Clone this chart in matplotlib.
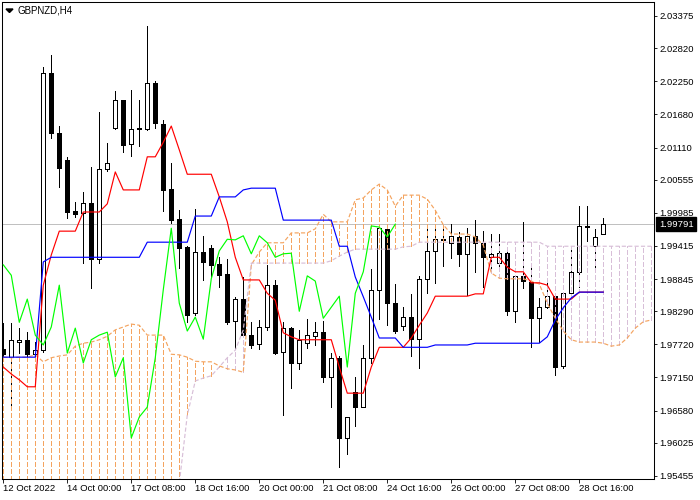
"""
GBPNZD H4 Ichimoku chart (MT4 style), saved to out.png.
"""
import matplotlib
matplotlib.use('Agg')
import matplotlib.pyplot as plt
from matplotlib.patches import Polygon
import numpy as np

plt.rcParams['font.family'] = ['Liberation Sans', 'DejaVu Sans']
plt.rcParams['lines.scale_dashes'] = False

symbol = "GBPNZD,H4"
current_price = 1.99791

# H4 candles, oldest first
opens = [1.9764, 1.9750, 1.9776, 1.9780, 1.9755, 1.9762, 2.0239, 2.0136, 2.0090, 2.0002,
         1.9998, 2.0015, 1.9919, 2.0074, 2.0145, 2.0193, 2.0117, 2.0145, 2.0143, 2.0222,
         2.0151, 2.0040, 1.9988, 1.9940, 1.9826, 1.9931, 1.9938, 1.9910, 1.9893, 1.9812,
         1.9850, 1.9788, 1.9773, 1.9802, 1.9874, 1.9759, 1.9800, 1.9740, 1.9774, 1.9786,
         1.9793, 1.9716, 1.9749, 1.9611, 1.9690, 1.9664, 1.9749, 1.9866, 1.9971, 1.9843,
         1.9804, 1.9819, 1.9781, 1.9885, 1.9933, 1.9953, 1.9947, 1.9957, 1.9928, 1.9959,
         1.9947, 1.9922, 1.9912, 1.9929, 1.9829, 1.9890, 1.9879, 1.9817, 1.9836, 1.9855,
         1.9735, 1.9860, 1.9897, 1.9976, 1.9941, 1.9962]
highs = [1.9809, 1.9809, 1.9800, 1.9793, 1.9776, 2.0250, 2.0270, 2.0148, 2.0095, 2.0017,
         2.0034, 2.0077, 2.0172, 2.0119, 2.0208, 2.0193, 2.0210, 2.0193, 2.0320, 2.0226,
         2.0158, 2.0084, 2.0003, 1.9941, 2.0005, 1.9959, 1.9943, 1.9922, 1.9919, 1.9854,
         1.9888, 1.9810, 1.9814, 1.9909, 1.9883, 1.9810, 1.9802, 1.9797, 1.9816, 1.9810,
         1.9812, 1.9757, 1.9752, 1.9647, 1.9716, 1.9771, 1.9902, 1.9974, 1.9974, 1.9876,
         1.9836, 1.9859, 1.9890, 1.9972, 1.9972, 1.9971, 1.9979, 1.9966, 1.9972, 1.9986,
         1.9967, 1.9962, 1.9962, 1.9938, 1.9891, 1.9983, 1.9912, 1.9852, 1.9878, 1.9860,
         1.9862, 1.9940, 2.0010, 2.0010, 1.9971, 1.9990]
lows = [1.9752, 1.9664, 1.9757, 1.9752, 1.9752, 1.9759, 2.0127, 2.0043, 1.9990, 1.9991,
        1.9912, 1.9869, 1.9912, 2.0071, 2.0143, 2.0103, 2.0096, 2.0114, 2.0141, 2.0145,
        2.0002, 1.9981, 1.9904, 1.9810, 1.9823, 1.9883, 1.9888, 1.9871, 1.9807, 1.9764,
        1.9785, 1.9766, 1.9764, 1.9797, 1.9755, 1.9650, 1.9697, 1.9730, 1.9766, 1.9771,
        1.9707, 1.9664, 1.9561, 1.9583, 1.9631, 1.9664, 1.9740, 1.9816, 1.9805, 1.9792,
        1.9797, 1.9752, 1.9731, 1.9860, 1.9878, 1.9907, 1.9921, 1.9907, 1.9857, 1.9897,
        1.9871, 1.9902, 1.9902, 1.9823, 1.9810, 1.9869, 1.9768, 1.9776, 1.9835, 1.9719,
        1.9731, 1.9860, 1.9871, 1.9950, 1.9902, 1.9962]
closes = [1.9755, 1.9780, 1.9780, 1.9755, 1.9762, 2.0239, 2.0136, 2.0076, 2.0000, 1.9996,
          2.0015, 1.9919, 2.0074, 2.0084, 2.0193, 2.0115, 2.0143, 2.0143, 2.0222, 2.0153,
          2.0038, 1.9986, 1.9938, 1.9823, 1.9931, 1.9914, 1.9909, 1.9891, 1.9810, 1.9850,
          1.9788, 1.9771, 1.9802, 1.9874, 1.9757, 1.9800, 1.9740, 1.9780, 1.9788, 1.9793,
          1.9716, 1.9749, 1.9611, 1.9647, 1.9664, 1.9749, 1.9866, 1.9972, 1.9843, 1.9795,
          1.9819, 1.9781, 1.9885, 1.9933, 1.9953, 1.9952, 1.9959, 1.9928, 1.9959, 1.9947,
          1.9922, 1.9928, 1.9929, 1.9829, 1.9890, 1.9881, 1.9817, 1.9836, 1.9855, 1.9733,
          1.9860, 1.9897, 1.9976, 1.9974, 1.9957, 1.9979]

# Ichimoku lines
tenkan = [1.9733, 1.9721, 1.9711, 1.9699, 1.9699, 1.9874, 1.9926, 1.9967, 1.9967, 1.9967,
          2.0000, 2.0000, 2.0000, 2.0014, 2.0069, 2.0038, 2.0038, 2.0038, 2.0095, 2.0095,
          2.0120, 2.0148, 2.0107, 2.0065, 2.0065, 2.0065, 2.0065, 2.0026, 1.9983, 1.9922,
          1.9883, 1.9883, 1.9883, 1.9860, 1.9848, 1.9792, 1.9785, 1.9780, 1.9780, 1.9780,
          1.9780, 1.9780, 1.9733, 1.9688, 1.9688, 1.9688, 1.9733, 1.9767, 1.9767, 1.9767,
          1.9767, 1.9783, 1.9805, 1.9826, 1.9855, 1.9855, 1.9855, 1.9855, 1.9855, 1.9859,
          1.9859, 1.9922, 1.9922, 1.9905, 1.9897, 1.9897, 1.9878, 1.9878, 1.9874, 1.9850,
          1.9850, 1.9850, 1.9862, 1.9862, 1.9862, 1.9862]
kijun = [1.9750, 1.9750, 1.9750, 1.9750, 1.9750, 1.9914, 1.9922, 1.9922, 1.9922, 1.9922,
         1.9922, 1.9922, 1.9922, 1.9922, 1.9922, 1.9922, 1.9922, 1.9922, 1.9948, 1.9948,
         1.9948, 1.9948, 1.9948, 1.9948, 1.9993, 1.9993, 1.9993, 2.0026, 2.0026, 2.0026,
         2.0038, 2.0041, 2.0041, 2.0041, 2.0041, 1.9986, 1.9986, 1.9986, 1.9986, 1.9986,
         1.9986, 1.9986, 1.9941, 1.9941, 1.9888, 1.9854, 1.9819, 1.9783, 1.9783, 1.9783,
         1.9767, 1.9767, 1.9767, 1.9767, 1.9771, 1.9771, 1.9771, 1.9771, 1.9771, 1.9774,
         1.9774, 1.9774, 1.9774, 1.9774, 1.9774, 1.9774, 1.9774, 1.9774, 1.9785, 1.9814,
         1.9835, 1.9852, 1.9862, 1.9862, 1.9862, 1.9862]
span_a = [1.9750, 1.9749, 1.9750, 1.9750, 1.9754, 1.9742, 1.9749, 1.9752, 1.9754, 1.9769,
          1.9774, 1.9776, 1.9780, 1.9786, 1.9797, 1.9802, 1.9807, 1.9805, 1.9788, 1.9788,
          1.9788, 1.9755, 1.9754, 1.9750, 1.9743, 1.9742, 1.9742, 1.9735, 1.9730, 1.9728,
          1.9724, 1.9909, 1.9931, 1.9947, 1.9947, 1.9947, 1.9964, 1.9964, 1.9964, 1.9971,
          1.9996, 1.9983, 1.9983, 1.9983, 2.0021, 2.0024, 2.0038, 2.0048, 2.0038, 2.0010,
          2.0029, 2.0029, 2.0029, 2.0022, 2.0003, 1.9978, 1.9962, 1.9962, 1.9962, 1.9957,
          1.9943, 1.9895, 1.9886, 1.9885, 1.9885, 1.9885, 1.9881, 1.9876, 1.9843, 1.9817,
          1.9795, 1.9780, 1.9776, 1.9776, 1.9776, 1.9774, 1.9769, 1.9771, 1.9783, 1.9800,
          1.9811, 1.9814]
span_b = [1.9480, 1.9480, 1.9480, 1.9480, 1.9480, 1.9480, 1.9480, 1.9480, 1.9480, 1.9480,
          1.9480, 1.9480, 1.9480, 1.9480, 1.9480, 1.9480, 1.9480, 1.9480, 1.9480, 1.9480,
          1.9480, 1.9480, 1.9533, 1.9650, 1.9709, 1.9714, 1.9718, 1.9733, 1.9749, 1.9762,
          1.9797, 1.9912, 1.9912, 1.9912, 1.9912, 1.9912, 1.9912, 1.9912, 1.9912, 1.9912,
          1.9912, 1.9916, 1.9924, 1.9931, 1.9936, 1.9936, 1.9936, 1.9936, 1.9936, 1.9936,
          1.9940, 1.9941, 1.9948, 1.9948, 1.9948, 1.9948, 1.9948, 1.9948, 1.9948, 1.9948,
          1.9948, 1.9948, 1.9948, 1.9948, 1.9948, 1.9948, 1.9948, 1.9948, 1.9941, 1.9941,
          1.9941, 1.9941, 1.9941, 1.9941, 1.9941, 1.9941, 1.9941, 1.9941, 1.9941, 1.9941,
          1.9941, 1.9941]
chikou_shift = 26

price_ticks = [2.03375, 2.02820, 2.02250, 2.01680, 2.01110, 2.00555, 1.99985, 1.99415,
               1.98845, 1.98290, 1.97720, 1.97150, 1.96580, 1.96025, 1.95455]
time_label_bars = [0, 8, 16, 24, 32, 40, 48, 56, 64, 72]
time_labels = ["12 Oct 2022", "14 Oct 00:00", "17 Oct 08:00", "18 Oct 16:00", "20 Oct 00:00",
               "21 Oct 08:00", "24 Oct 16:00", "26 Oct 00:00", "27 Oct 08:00", "28 Oct 16:00"]

W, H = 700, 500
LW = 0.6    # about one screen pixel for straight strokes
LW_IND = 0.85  # indicator polylines, antialiased
fig = plt.figure(figsize=(W / 100, H / 100), dpi=100)
ax = fig.add_axes([2 / W, 21 / H, 652 / W, 477 / H])

o = np.array(opens)
hi = np.array(highs)
lo = np.array(lows)
c = np.array(closes)
x = np.arange(len(c))
up = c >= o

# current price line
ax.axhline(current_price, color='#C0C0C0', lw=LW, zorder=1, antialiased=False)

# candles
ax.vlines(x, lo, hi, color='black', lw=LW, zorder=2, antialiased=False)
ax.bar(x, np.abs(c - o), bottom=np.minimum(o, c), width=0.55,
       color=np.where(up, 'white', 'black'), edgecolor='black', linewidth=LW,
       zorder=3, antialiased=False)

# kumo hatch + span lines
dash = (0, (3.0, 1.6))
a = np.array(span_a)
b = np.array(span_b)
xs = np.arange(len(a))
bull = a >= b
ax.vlines(xs[bull], b[bull], a[bull], colors='#F4A460', linestyles=[dash], lw=LW,
          zorder=4, antialiased=False)
ax.vlines(xs[~bull], a[~bull], b[~bull], colors='#D8BFD8', linestyles=[dash], lw=LW,
          zorder=4, antialiased=False)
ax.plot(xs, a, color='#F4A460', ls=dash, lw=LW_IND, zorder=5)
ax.plot(xs, b, color='#D8BFD8', ls=dash, lw=LW_IND, zorder=5)

# tenkan / kijun / chikou
ax.plot(x, tenkan, color='#FF0000', lw=LW_IND, zorder=6)
ax.plot(x, kijun, color='#0000FF', lw=LW_IND, zorder=6)
chikou = c[chikou_shift:]
ax.plot(x[:len(chikou)], chikou, color='#00FF00', lw=LW_IND, zorder=6)

ax.set_xlim(-0.16, 81.34)
ax.set_ylim(1.95402, 2.03616)

ax.set_xticks(time_label_bars, time_labels)
for lbl in ax.get_xticklabels():
    lbl.set_ha('left')
ax.tick_params(axis='x', direction='out', length=3.1, width=LW, pad=0.8, labelsize=6.8)

ax.yaxis.tick_right()
ax.set_yticks(price_ticks, [f'{p:.5f}' for p in price_ticks])
ax.tick_params(axis='y', direction='out', length=2.4, width=LW, pad=1.5, labelsize=6.8)

for sp in ax.spines.values():
    sp.set_linewidth(0.75)
    sp.set_color('black')

# bid label on the price scale
ax.text(1.0075, current_price, f'{current_price:.5f}', transform=ax.get_yaxis_transform(),
        ha='left', va='center', color='white', fontsize=6.8, zorder=10, clip_on=False,
        bbox=dict(boxstyle='square,pad=0.3', fc='black', ec='black'))

# symbol caption with the small drop-down triangle
tri = Polygon([[6 / W, 1 - 9 / H], [13 / W, 1 - 9 / H], [9.5 / W, 1 - 12.5 / H]],
              closed=True, color='black', transform=fig.transFigure)
fig.patches.append(tri)
fig.text(18 / W, 1 - 10.5 / H, symbol, fontsize=7, ha='left', va='center')

plt.savefig('out.png', dpi=100)
plt.close()
